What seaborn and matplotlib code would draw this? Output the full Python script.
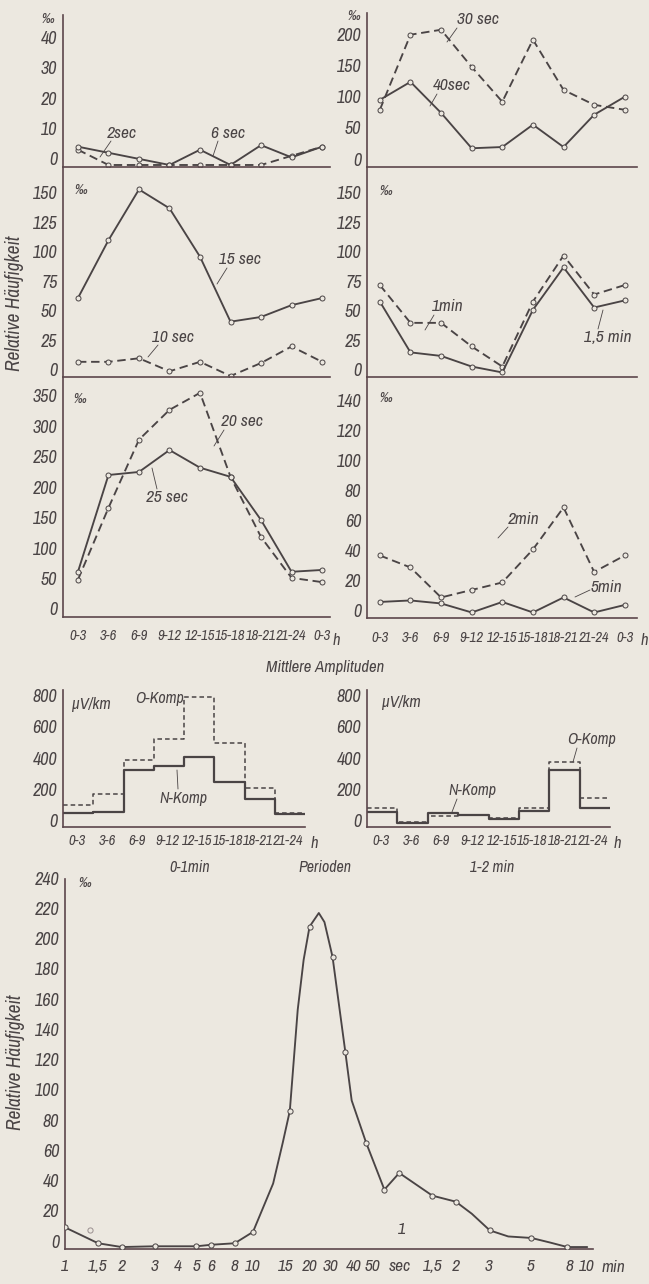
import matplotlib
matplotlib.use('Agg')
import matplotlib.pyplot as plt
import matplotlib.transforms as mtransforms
import numpy as np
import pandas as pd
import seaborn as sns

# figure size in pixels
W, H = 649, 1284
BG = '#ece8e0'
INK = '#4a4445'
SPINE = '#5c474c'

# ---- Tagesgang der relativen Haeufigkeit (per mille), 3h intervals ----
hours = ['0-3', '3-6', '6-9', '9-12', '12-15', '15-18', '18-21', '21-24', '0-3']

freq_2sec = [5, 0, 0, 0, 0, 0, 0, 3, 6]
freq_6sec = [6, 4, 2, 0, 5, 0, 6.5, 2.5, 6]
freq_30sec = [89, 210, 218, 158, 102, 202, 121, 97, 89]
freq_40sec = [105, 134, 84, 27, 29, 65, 29, 81, 110]
freq_10sec = [12, 12, 15, 4, 12, 0, 11, 25, 12]
freq_15sec = [66, 115, 158, 142, 101, 46, 50, 60, 66]
freq_1min = [77, 45, 45, 25, 8, 63, 102, 69, 77]
freq_1_5min = [63, 20, 17, 8, 3, 56, 92, 58, 64]
freq_20sec = [58, 176, 288, 337, 365, 227, 128, 61, 54]
freq_25sec = [71, 230, 235, 271, 242, 227, 156, 71, 74]
freq_2min = [41, 33, 13, 18, 23, 45, 73, 30, 41]
freq_5min = [10, 11, 9, 3, 10, 3, 13, 3, 8]

# ---- Mittlere Amplituden (uV/km) ----
amp_hours = ['0-3', '3-6', '6-9', '9-12', '12-15', '15-18', '18-21', '21-24']
n_komp_0_1 = [84, 90, 361, 387, 445, 284, 174, 77]
o_komp_0_1 = [135, 206, 426, 561, 830, 535, 245, 84]
n_komp_1_2 = [90, 20, 84, 70, 45, 100, 360, 115]
o_komp_1_2 = [115, 25, 65, 70, 55, 115, 410, 180]

# ---- Periodenverteilung ----
period_s = [1, 1.5, 2, 3, 4, 5, 6, 8, 10, 12.8, 14.4, 15.7, 17.3, 18.6, 20, 22.4,
            24, 26.5, 31, 33.5, 40, 50, 60, 90, 120, 146, 182, 228, 303, 380, 470, 600]
period_freq = [13, 2.5, 0, 0.5, 0.5, 0.5, 1.5, 2.5, 10, 42, 69, 90, 157, 190, 212, 221,
               215, 192, 129, 97, 69, 38, 49, 34, 30, 22, 11, 7, 6, 3, 0, 0]
period_marked = [1, 1, 1, 1, 0, 1, 1, 1, 1, 0, 0, 1, 0, 0, 1, 0,
                 0, 1, 1, 0, 1, 1, 1, 1, 1, 0, 1, 0, 1, 0, 1, 0]
stray_s = [1.36]
stray_freq = [11]
period_ticks = [1, 1.5, 2, 3, 4, 5, 6, 8, 10, 15, 20, 25, 30, 40, 50, 60,
                90, 120, 180, 300, 480, 600]
period_labels = ['1', '1,5', '2', '3', '4', '5', '6', '8', '10', '15', '20', '', '30', '40', '50', 'sec',
                 '1,5', '2', '3', '5', '8', '10']

sns.set_theme(style='white')
plt.rcParams['font.family'] = ['Archivo Narrow', 'Liberation Sans', 'DejaVu Sans']
plt.rcParams['font.style'] = 'italic'
plt.rcParams['text.color'] = INK
plt.rcParams['axes.labelcolor'] = INK
plt.rcParams['xtick.color'] = INK
plt.rcParams['ytick.color'] = INK

fig = plt.figure(figsize=(W / 100, H / 100), dpi=100, facecolor=BG)
label_shift = mtransforms.ScaledTranslation(0, 0.06, fig.dpi_scale_trans)
left_shift = mtransforms.ScaledTranslation(-0.12, 0, fig.dpi_scale_trans)


def add_ax(x0, y0, x1, y1):
    ax = fig.add_axes([x0 / W, 1 - y1 / H, (x1 - x0) / W, (y1 - y0) / H])
    ax.set_facecolor('none')
    for s in ['top', 'right']:
        ax.spines[s].set_visible(False)
    for s in ['left', 'bottom']:
        ax.spines[s].set_color(SPINE)
        ax.spines[s].set_linewidth(1.2)
    ax.tick_params(axis='y', direction='in', length=3, width=0.6, labelsize=13, pad=4, color=SPINE)
    ax.tick_params(axis='x', length=0, labelsize=10.5, pad=9)
    ax.set_xlabel('')
    ax.set_ylabel('')
    return ax


def draw_line(ax, vals, dashed):
    df = pd.DataFrame({'x': np.arange(len(vals)), 'y': vals})
    sns.lineplot(data=df, x='x', y='y', ax=ax, color=INK, lw=1.35,
                 linestyle=(0, (4.5, 2.5)) if dashed else '-',
                 marker='o', markersize=3.6, markerfacecolor=BG,
                 markeredgecolor=INK, markeredgewidth=0.7)


def line_panel(box, xlim, ylim, yticks, series, xlabels):
    ax = add_ax(*box)
    for vals, dashed in series:
        draw_line(ax, vals, dashed)
    ax.set_xlim(*xlim)
    ax.set_ylim(*ylim)
    ax.set_yticks(yticks)
    ax.set_yticklabels([str(t) for t in yticks])
    ax.set_xticks(range(len(hours)))
    ax.set_xticklabels(hours if xlabels else [''] * len(hours))
    ax.set_xlabel('')
    ax.set_ylabel('')
    for lab in ax.get_yticklabels():
        lab.set_transform(lab.get_transform() + label_shift)
    return ax


def note(text, tx, ty, p0=None, p1=None, size=12.5, ha='center'):
    fig.text(tx / W, 1 - ty / H, text, ha=ha, va='center', fontsize=size, color=INK)
    if p0 is not None:
        fig.add_artist(plt.Line2D([p0[0] / W, p1[0] / W], [1 - p0[1] / H, 1 - p1[1] / H],
                                  transform=fig.transFigure, color=INK, lw=0.6))


L = (-0.49, 8.26)
R = (-0.42, 8.4)
line_panel((63, 15, 330, 167), L, (-0.66, 49.2), [0, 10, 20, 30, 40],
           [(freq_2sec, True), (freq_6sec, False)], False)
line_panel((367, 13, 637, 167), R, (-3.2, 245), [0, 50, 100, 150, 200],
           [(freq_30sec, True), (freq_40sec, False)], False)
line_panel((63, 167, 330, 377), L, (-0.85, 177), [0, 25, 50, 75, 100, 125, 150],
           [(freq_10sec, True), (freq_15sec, False)], False)
line_panel((367, 167, 637, 377), R, (-0.85, 177), [0, 25, 50, 75, 100, 125, 150],
           [(freq_1min, True), (freq_1_5min, False)], False)
line_panel((63, 377, 330, 617), L, (-3.3, 391), [0, 50, 100, 150, 200, 250, 300, 350],
           [(freq_20sec, True), (freq_25sec, False)], True)
line_panel((367, 377, 637, 618), R, (-0.7, 160), [0, 20, 40, 60, 80, 100, 120, 140],
           [(freq_2min, True), (freq_5min, False)], True)

# per mille markers and hour units
for tx, ty in [(48, 19), (354, 16), (81, 190), (386, 191), (80, 399), (386, 398), (85, 883)]:
    note('\u2030', tx, ty, size=11)
note('h', 336, 640, size=12)
note('h', 644, 640, size=12)

# series labels
note('2sec', 122, 134, (111, 141), (100, 157))
note('6 sec', 228, 134, (218, 141), (213, 156))
note('30 sec', 478, 20, (457, 28), (447, 42))
note('40sec', 452, 86, (437, 94), (430, 106))
note('15 sec', 240, 260, (227, 268), (217, 284))
note('10 sec', 173, 337, (158, 345), (148, 357))
note('1min', 448, 307, (434, 315), (425, 330))
note('1,5 min', 608, 338, (598, 329), (603, 310))
note('20 sec', 242, 422, (224, 430), (214, 446))
note('25 sec', 167, 497, (157, 489), (152, 468))
note('2min', 524, 519, (508, 527), (498, 538))
note('5min', 606, 587, (590, 590), (575, 597))

fig.text(15 / W, 1 - 303 / H, 'Relative Häufigkeit', rotation=90, ha='center', va='center',
         fontsize=14, color=INK)

# ---- amplitude panels ----
note('Mittlere Amplituden', 325, 668, size=12)


def amp_panel(box, n_vals, o_vals):
    ax = add_ax(*box)
    edges = np.arange(len(n_vals) + 1)
    for vals, dashed in [(o_vals, True), (n_vals, False)]:
        df = pd.DataFrame({'x': edges, 'y': list(vals) + [vals[-1]]})
        sns.lineplot(data=df, x='x', y='y', ax=ax, color=INK, lw=1.6 if not dashed else 1.1,
                     drawstyle='steps-post',
                     linestyle=(0, (3, 2)) if dashed else '-')
    ax.set_xlim(0, len(n_vals))
    ax.set_ylim(-6, 877)
    ax.set_yticks([0, 200, 400, 600, 800])
    ax.set_yticklabels(['0', '200', '400', '600', '800'])
    ax.set_xticks(np.arange(len(amp_hours)) + 0.45)
    ax.set_xticklabels(amp_hours)
    ax.tick_params(axis='x', pad=5)
    ax.set_xlabel('')
    ax.set_ylabel('')
    for lab in ax.get_yticklabels():
        lab.set_transform(lab.get_transform() + label_shift)
    return ax


amp_panel((63, 690, 305, 827), n_komp_0_1, o_komp_0_1)
amp_panel((367, 690, 610, 827), n_komp_1_2, o_komp_1_2)
note('\u03bcV/km', 91, 705, size=12)
note('\u03bcV/km', 401, 703, size=12)
note('h', 314, 843, size=12)
note('h', 617, 843, size=12)
note('O-Komp', 160, 698, size=11.5)
note('N-Komp', 183, 798, (178, 789), (177, 770), size=11.5)
note('O-Komp', 592, 740, (577, 748), (573, 762), size=11.5)
note('N-Komp', 472, 790, (457, 799), (452, 812), size=11.5)
note('0-1min', 190, 867, size=11.5)
note('Perioden', 325, 867, size=11.5)
note('1-2 min', 492, 867, size=11.5)

# ---- period distribution ----
ax = add_ax(65, 879, 593, 1249)
pdf = pd.DataFrame({'t': period_s, 'f': period_freq, 'm': period_marked})
sns.lineplot(data=pdf, x='t', y='f', ax=ax, color=INK, lw=1.35)
marked = pdf[pdf['m'] == 1]
sns.scatterplot(data=marked, x='t', y='f', ax=ax, s=14, facecolor=BG, edgecolor=INK,
                linewidth=0.7, zorder=3)
sns.scatterplot(x=stray_s, y=stray_freq, ax=ax, s=14, facecolor=BG, edgecolor='#9a9090',
                linewidth=0.7, zorder=3)
ax.set_xscale('log')
ax.set_xlim(1, 644)
ax.set_ylim(-1.3, 243.5)
ax.set_yticks(range(0, 241, 20))
ax.set_yticklabels([str(v) for v in range(0, 241, 20)])
ax.set_xticks(period_ticks)
ax.set_xticklabels(period_labels)
ax.minorticks_off()
ax.tick_params(axis='x', direction='in', length=4, width=0.6, labelsize=12.5, pad=7, color=SPINE)
ax.set_xlabel('')
ax.set_ylabel('')
for lab in ax.get_yticklabels():
    lab.set_transform(lab.get_transform() + label_shift)
for lab in ax.get_xticklabels():
    if lab.get_text() in ('30', '40', '50'):
        lab.set_transform(lab.get_transform() + left_shift)
note('1', 402, 1230, size=12.5)
note('min', 613, 1267, size=12.5)
fig.text(16 / W, 1 - 1062 / H, 'Relative Häufigkeit', rotation=90, ha='center', va='center',
         fontsize=14, color=INK)

fig.savefig('out.png', dpi=100, facecolor=BG)
